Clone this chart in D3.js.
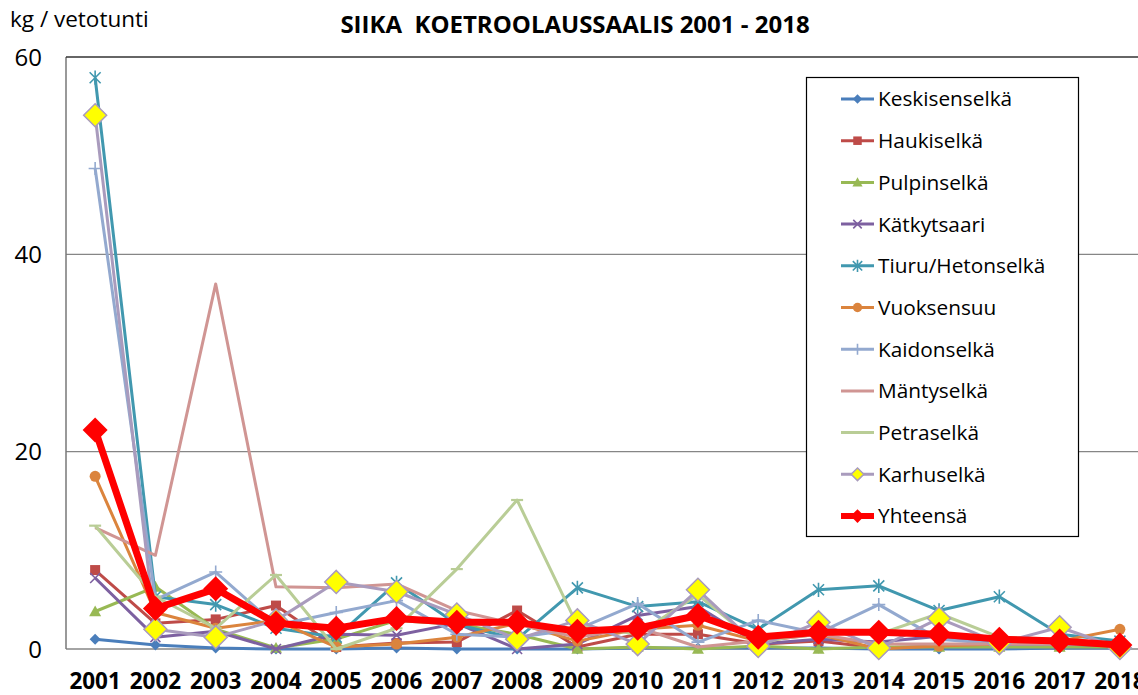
<!DOCTYPE html>
<meta charset="utf-8">
<script src="https://d3js.org/d3.v7.min.js"></script>
<style>
  body { margin: 0; background: #fff; }
  text { font-family: "Open Sans", Lato, sans-serif; fill: #000; }
</style>
<div id="my_dataviz"></div>
<script>

// years on the x axis
var years = ["2001","2002","2003","2004","2005","2006","2007","2008","2009",
             "2010","2011","2012","2013","2014","2015","2016","2017","2018"];
var yTicks = [0, 20, 40, 60];

// catch per series, kg / vetotunti
var keskisenselka = [1.0, 0.4, 0.1, 0.0, 0.0, 0.1, 0.0, 0.0, 0.0, 0.1, 0.1, 0.1, 0.1, 0.0, 0.0, 0.0, 0.1, 0.1];
var haukiselka    = [8.0, 2.6, 3.0, 4.4, 0.2, 0.6, 0.7, 3.9, 0.2, 1.5, 1.5, 0.5, 0.8, 0.1, 0.3, 0.3, 0.3, 0.3];
var pulpinselka   = [3.8, 6.3, 2.0, 0.1, 1.0, 2.9, 2.5, 1.5, 0.0, 0.2, 0.0, 0.3, 0.0, 0.2, 0.2, 0.2, 0.2, 0.2];
var katkytsaari   = [7.2, 1.2, 1.8, 0.0, 1.5, 1.4, 2.6, 0.0, 0.5, 3.4, 4.3, 0.5, 1.0, 0.7, 1.3, 0.5, 0.5, 0.3];
var tiuru         = [57.9, 5.3, 4.5, 2.1, 1.2, 6.7, 2.5, 1.0, 6.2, 4.3, 4.8, 2.0, 6.0, 6.4, 3.9, 5.3, 1.5, 0.8];
var vuoksensuu    = [17.5, 3.7, 2.1, 2.9, 0.2, 0.5, 1.2, 2.6, 0.8, 2.0, 2.4, 0.8, 1.5, 0.0, 0.3, 0.5, 0.8, 2.0];
var kaidonselka   = [48.7, 5.0, 7.8, 2.4, 3.7, 4.9, 1.5, 1.2, 2.0, 4.6, 0.7, 2.9, 1.6, 4.5, 1.0, 0.5, 0.5, 0.6];
var mantyselka    = [12.3, 9.5, 37.0, 6.3, 6.2, 6.6, 3.9, 2.5, 1.2, 2.2, 0.2, 0.8, 1.5, 0.5, 0.5, 0.5, 0.5, 0.5];
var petraselka    = [12.5, 5.3, 2.1, 7.5, 0.0, 2.1, 8.1, 15.1, 2.4, 1.5, 5.5, 0.5, 2.0, 1.5, 3.6, 1.2, 1.0, 0.5];
var karhuselka    = [54.1, 2.0, 1.2, 2.9, 6.8, 5.8, 3.5, 1.0, 2.9, 0.5, 6.0, 0.3, 2.7, 0.1, 3.1, 0.6, 2.2, 0.1];
var yhteensa      = [22.2, 4.1, 6.1, 2.6, 2.1, 3.1, 2.7, 2.7, 1.8, 2.1, 3.4, 1.2, 1.7, 1.7, 1.5, 1.0, 0.8, 0.4];

var names = ["Keskisenselkä","Haukiselkä","Pulpinselkä","Kätkytsaari","Tiuru/Hetonselkä",
             "Vuoksensuu","Kaidonselkä","Mäntyselkä","Petraselkä","Karhuselkä","Yhteensä"];

var series = [
  { name: names[0],  values: keskisenselka, color: "#4A7EBB", width: 3, marker: "diamond" },
  { name: names[1],  values: haukiselka,    color: "#BE4B48", width: 3, marker: "square" },
  { name: names[2],  values: pulpinselka,   color: "#98B954", width: 3, marker: "triangle" },
  { name: names[3],  values: katkytsaari,   color: "#7D60A0", width: 3, marker: "x" },
  { name: names[4],  values: tiuru,         color: "#4198AF", width: 3, marker: "star" },
  { name: names[5],  values: vuoksensuu,    color: "#DB843D", width: 3, marker: "circle" },
  { name: names[6],  values: kaidonselka,   color: "#93A9CF", width: 3, marker: "plus" },
  { name: names[7],  values: mantyselka,    color: "#D09593", width: 3, marker: "none" },
  { name: names[8],  values: petraselka,    color: "#B9CD96", width: 3, marker: "dash" },
  { name: names[9],  values: karhuselka,    color: "#A99BBD", width: 3, marker: "bigdiamond" },
  { name: names[10], values: yhteensa,      color: "#FF0000", width: 7, marker: "reddiamond" }
];

var width = 1138, height = 695;
var plotLeft = 66, plotTop = 57, plotBottom = 649;

var svg = d3.select("#my_dataviz")
  .append("svg")
    .attr("width", width)
    .attr("height", height);

var x = d3.scalePoint()
  .domain(years)
  .range([65 + 30.14, 65 + 30.14 + 17 * 60.28]);

var y = d3.scaleLinear()
  .domain([0, 60])
  .range([plotBottom, plotTop]);

// gridlines
svg.append("g")
  .selectAll("line")
  .data([20, 40])
  .enter()
  .append("line")
    .attr("x1", plotLeft).attr("x2", width)
    .attr("y1", function(d) { return y(d); })
    .attr("y2", function(d) { return y(d); })
    .attr("stroke", "#868686")
    .attr("stroke-width", 1.3);

// plot frame: bottom axis, left, top
svg.append("line")
  .attr("x1", plotLeft).attr("x2", width)
  .attr("y1", y(0)).attr("y2", y(0))
  .attr("stroke", "#868686").attr("stroke-width", 1.5);
svg.append("line")
  .attr("x1", plotLeft).attr("x2", plotLeft)
  .attr("y1", y(60)).attr("y2", y(0))
  .attr("stroke", "#777").attr("stroke-width", 1.5);
svg.append("line")
  .attr("x1", plotLeft).attr("x2", width)
  .attr("y1", y(60)).attr("y2", y(60))
  .attr("stroke", "#333").attr("stroke-width", 1.5);

// y tick labels
svg.append("g")
  .selectAll("text")
  .data(yTicks)
  .enter()
  .append("text")
    .attr("x", 42)
    .attr("y", function(d) { return y(d); })
    .attr("dy", "0.36em")
    .attr("text-anchor", "end")
    .style("font-size", "24px")
    .text(function(d) { return d; });

// x tick labels
svg.append("g")
  .selectAll("text")
  .data(years)
  .enter()
  .append("text")
    .attr("x", function(d) { return x(d); })
    .attr("y", 689)
    .attr("text-anchor", "middle")
    .style("font-size", "22.5px")
    .style("font-weight", "bold")
    .text(function(d) { return d; });

// titles
svg.append("text")
  .attr("x", 10).attr("y", 27)
  .style("font-size", "22.5px")
  .text("kg / vetotunti");
svg.append("text")
  .attr("x", 575).attr("y", 33)
  .attr("text-anchor", "middle")
  .style("font-size", "24px")
  .style("font-weight", "bold")
  .attr("xml:space", "preserve")
  .text("SIIKA  KOETROOLAUSSAALIS 2001 - 2018");

// marker drawing
function drawMarker(g, type, color, cx, cy, scale) {
  var s = scale || 1;
  if (type === "diamond") {
    var r = 5.5 * s;
    g.append("path").attr("d", "M" + cx + "," + (cy - r) + "L" + (cx + r) + "," + cy + "L" + cx + "," + (cy + r) + "L" + (cx - r) + "," + cy + "Z")
      .attr("fill", color);
  } else if (type === "square") {
    var h = 5 * s;
    g.append("rect").attr("x", cx - h).attr("y", cy - h).attr("width", 2 * h).attr("height", 2 * h)
      .attr("fill", color);
  } else if (type === "triangle") {
    var t = 6 * s;
    g.append("path").attr("d", "M" + cx + "," + (cy - t) + "L" + (cx + t) + "," + (cy + t * 0.8) + "L" + (cx - t) + "," + (cy + t * 0.8) + "Z")
      .attr("fill", color);
  } else if (type === "x") {
    var a = 5 * s;
    g.append("path").attr("d", "M" + (cx - a) + "," + (cy - a) + "L" + (cx + a) + "," + (cy + a) + "M" + (cx - a) + "," + (cy + a) + "L" + (cx + a) + "," + (cy - a))
      .attr("stroke", color).attr("stroke-width", 1.6).attr("fill", "none");
  } else if (type === "star") {
    var b = 5.5 * s;
    g.append("path").attr("d", "M" + (cx - b) + "," + (cy - b) + "L" + (cx + b) + "," + (cy + b) + "M" + (cx - b) + "," + (cy + b) + "L" + (cx + b) + "," + (cy - b) +
        "M" + cx + "," + (cy - b * 1.3) + "L" + cx + "," + (cy + b * 1.3))
      .attr("stroke", color).attr("stroke-width", 1.6).attr("fill", "none");
  } else if (type === "circle") {
    g.append("circle").attr("cx", cx).attr("cy", cy).attr("r", 5.5 * s).attr("fill", color);
  } else if (type === "plus") {
    var p = 6.5 * s;
    g.append("path").attr("d", "M" + (cx - p) + "," + cy + "L" + (cx + p) + "," + cy + "M" + cx + "," + (cy - p) + "L" + cx + "," + (cy + p))
      .attr("stroke", color).attr("stroke-width", 1.6).attr("fill", "none");
  } else if (type === "dash") {
    var q = 6 * s;
    g.append("path").attr("d", "M" + (cx - q) + "," + cy + "L" + (cx + q) + "," + cy)
      .attr("stroke", color).attr("stroke-width", 2.2).attr("fill", "none");
  } else if (type === "bigdiamond") {
    var k = 11.5 * s;
    g.append("path").attr("d", "M" + cx + "," + (cy - k) + "L" + (cx + k) + "," + cy + "L" + cx + "," + (cy + k) + "L" + (cx - k) + "," + cy + "Z")
      .attr("fill", "#FFFF00").attr("stroke", color).attr("stroke-width", 1.5);
  } else if (type === "reddiamond") {
    var m = 12.5 * s;
    g.append("path").attr("d", "M" + cx + "," + (cy - m) + "L" + (cx + m) + "," + cy + "L" + cx + "," + (cy + m) + "L" + (cx - m) + "," + cy + "Z")
      .attr("fill", color);
  }
}

var line = d3.line()
  .x(function(d, i) { return x(years[i]); })
  .y(function(d) { return y(d); });

var chart = svg.append("g");

series.forEach(function(s) {
  var g = chart.append("g");
  g.append("path")
    .datum(s.values)
    .attr("d", line)
    .attr("fill", "none")
    .attr("stroke", s.color)
    .attr("stroke-width", s.width)
    .attr("stroke-linejoin", "round");
  s.values.forEach(function(v, i) {
    drawMarker(g, s.marker, s.color, x(years[i]), y(v), 1);
  });
});

// legend
var legend = svg.append("g");
legend.append("rect")
  .attr("x", 806.5).attr("y", 77.5)
  .attr("width", 272).attr("height", 459)
  .attr("fill", "#fff")
  .attr("stroke", "#000")
  .attr("stroke-width", 1.2);

series.forEach(function(s, i) {
  var ly = 99 + i * 41.7;
  var g = legend.append("g");
  g.append("line")
    .attr("x1", 841).attr("x2", 874)
    .attr("y1", ly).attr("y2", ly)
    .attr("stroke", s.color)
    .attr("stroke-width", s.width === 7 ? 6 : 3);
  var sc = s.marker === "bigdiamond" ? 0.55 : (s.marker === "reddiamond" ? 0.55 : 0.85);
  if (s.marker !== "dash") drawMarker(g, s.marker, s.color, 857.5, ly, sc);
  g.append("text")
    .attr("x", 878)
    .attr("y", ly)
    .attr("dy", "0.36em")
    .style("font-size", "20.8px")
    .text(s.name);
});

</script>
